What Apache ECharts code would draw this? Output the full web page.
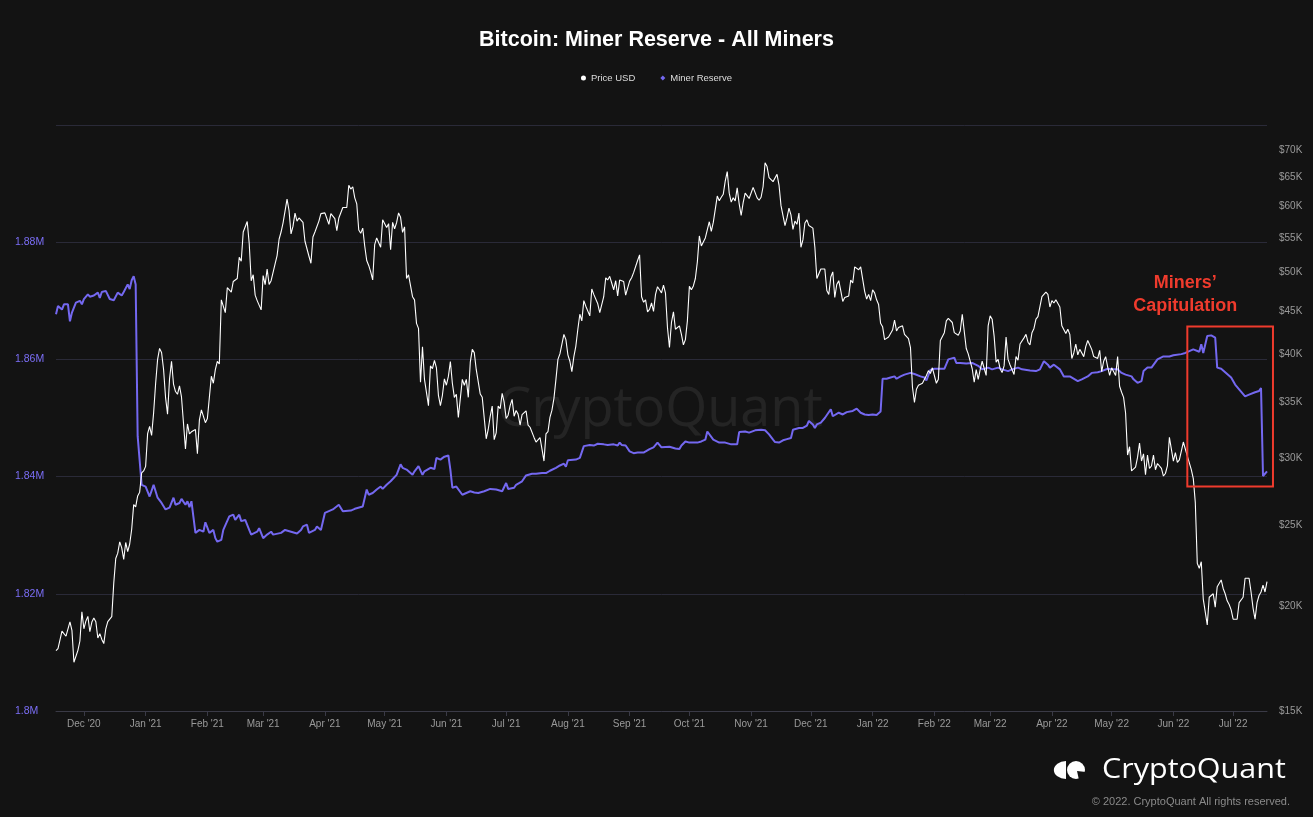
<!DOCTYPE html>
<html>
<head>
<meta charset="utf-8">
<script src="https://cdn.jsdelivr.net/npm/echarts@6/dist/echarts.min.js"></script>
<style>
html,body{margin:0;padding:0;background:#131313;}
#c{width:1313px;height:817px;}
</style>
</head>
<body>
<div id="c"></div>
<script>
// ---------------- DATA ----------------
// Daily BTC price (USD), one row per month; first month starts on day 17
const priceMonths = ['2020-11','2020-12','2021-01','2021-02','2021-03','2021-04','2021-05','2021-06','2021-07','2021-08','2021-09','2021-10','2021-11','2021-12',
'2022-01','2022-02','2022-03','2022-04','2022-05','2022-06','2022-07'];
const priceFirstDay = 17;
const priceByMonth = [
[17700,17800,17800,18680,18700,18420,18370,19160,18720,17150,17140,17720,18180,19700],
[18800,19200,19450,18650,19150,19360,19170,18330,18550,18260,18050,18800,19170,19250,19440,21310,22800,23140,23870,23480,22750,23830,23240,23730,24710,26440,26270,27080,27360,28840,29000],
[29370,32130,32780,31970,33990,36820,39370,40600,40150,38350,35500,33900,37320,39200,36820,36070,35800,36630,35540,35600,30800,33000,32100,32290,32290,32500,30400,33370,34300,34300,33110],
[33500,35500,37620,36900,38300,39190,38900,46400,46480,44800,47970,47910,47400,48800,48580,49200,52150,51600,55900,56000,57540,54200,48900,49710,47000,46300,46190,45140],
[49600,48380,50500,48400,48900,48900,51200,52400,54800,55900,57330,57300,61200,59300,55600,56800,58870,57600,58100,58230,57400,54500,54340,52300,51300,55140,55900,55800,57600,58800,58800],
[58920,59000,57100,58800,58800,58000,56100,58100,58100,59800,59800,59800,63540,62900,63300,61400,60400,56200,55700,56500,53800,51700,51000,50100,49000,54000,55000,54840,53600,57800],
[57800,56600,57200,53250,57400,56400,57350,58900,58200,55840,56700,49200,49700,49900,46800,46400,43500,42900,37000,40800,37300,37500,34700,38700,38400,39300,38500,35700,34700,35700,37340],
[36700,37600,39170,36900,35500,35800,33600,33600,37300,36700,37300,35500,39100,40500,40140,38300,38100,35820,35500,35600,31680,32500,33700,34650,31600,32200,34650,34400,35900,35040],
[33500,33800,34700,35300,33700,34240,33900,32900,33850,33800,34200,32900,32700,32800,31800,31400,31500,31790,30800,29800,32110,32300,33600,34270,35400,37300,39400,40000,40000,42200,41600],
[39900,39200,38100,39700,40870,42800,44600,43800,46300,45600,45600,44400,47800,47100,47000,45900,44800,44700,46800,49300,49000,49500,49500,47700,48900,46900,49000,48900,48800,47000,47100],
[48850,49300,50000,49900,51700,52500,46800,46100,46400,44900,45200,46000,44960,47100,48100,47700,47300,48300,47250,43000,40700,43600,44900,42800,42700,43200,42200,41000,41600,43800],
[48150,47700,48200,49200,51500,55300,53800,53800,55000,54700,57500,56000,57400,57400,61700,60900,61500,62000,64300,66000,62200,60700,61400,60900,63100,60400,58500,60600,62200,61900,61300],
[61000,63200,62900,61400,61000,61500,63300,67600,66900,64900,64900,64200,64400,65500,63600,60100,60400,56900,58100,59700,58600,56300,57600,57100,58900,53600,54700,57300,57800,56900],
[57200,56500,53600,49200,49400,50500,50600,50500,47600,47100,49400,50100,46700,48400,48900,47600,46200,46700,46700,46900,49000,48600,50800,50800,50400,50800,50700,47500,46500,47100,46300],
[47700,47300,46400,45800,43500,43100,41600,41700,41900,41800,42700,43900,42600,43000,43100,43200,42200,42400,41700,40700,36500,35000,36300,36700,36900,36900,37100,37700,38200,37900,38500],
[38700,36900,37300,41500,41400,42400,43800,44100,44300,43600,42400,42200,42100,42600,44600,44500,40600,40000,40100,38400,37000,38300,37300,38300,39200,39200,37700,43200],
[44400,44000,42000,39100,39400,38400,38000,38700,41900,39400,38800,38800,37800,39700,39300,41100,41000,41800,42200,41300,41000,42400,42900,44000,44300,44500,46800,47100,47400,47100,45500],
[46300,46000,46400,46600,45500,43200,43400,42300,42800,42200,39500,40100,41100,39900,40500,40400,39700,40800,41500,41500,40500,39700,39500,39500,40400,38100,39200,39700,38600,37700],
[38500,38500,37700,39700,36600,36000,35500,34000,30300,31000,29000,28900,29300,30100,31300,29800,30400,28700,30300,29200,29400,30300,29100,29600,29500,29200,28600,28800,29400,31800,31800],
[29800,30500,29700,29900,29900,31400,31400,30200,30100,29100,28400,26600,22500,22200,22600,20400,20400,19000,20500,20600,20700,19950,21100,21200,21500,21000,20700,20300,20100,19800],
[19300,19250,19300,20200,20200,20500,21600,21700,21600,20800,19900,19300,20200,20600,20800,21200,20800,21400]
];

const reserveDates = ['2020-11-17','2020-11-18','2020-11-20','2020-11-21','2020-11-23','2020-11-24','2020-11-25','2020-11-27','2020-11-29','2020-11-30',
'2020-12-01','2020-12-03','2020-12-04','2020-12-06','2020-12-08','2020-12-09','2020-12-10','2020-12-12','2020-12-13','2020-12-14','2020-12-16','2020-12-18','2020-12-20','2020-12-21','2020-12-23','2020-12-24','2020-12-25','2020-12-26','2020-12-27','2020-12-28','2020-12-29','2020-12-30',
'2021-01-01','2021-01-03','2021-01-05','2021-01-06','2021-01-07','2021-01-09','2021-01-11','2021-01-13','2021-01-15','2021-01-16','2021-01-18','2021-01-19','2021-01-21','2021-01-22','2021-01-23','2021-01-24','2021-01-26','2021-01-28','2021-01-30','2021-01-31',
'2021-02-02','2021-02-04','2021-02-05','2021-02-06','2021-02-08','2021-02-09','2021-02-12','2021-02-14','2021-02-15','2021-02-17','2021-02-18','2021-02-20','2021-02-22','2021-02-23','2021-02-26','2021-02-27',
'2021-03-01','2021-03-03','2021-03-05','2021-03-06','2021-03-10','2021-03-12','2021-03-13','2021-03-15','2021-03-16','2021-03-18','2021-03-20','2021-03-21','2021-03-23','2021-03-24','2021-03-25','2021-03-27','2021-03-28','2021-03-30','2021-03-31',
'2021-04-01','2021-04-03','2021-04-05','2021-04-06','2021-04-08','2021-04-10','2021-04-11','2021-04-14','2021-04-16','2021-04-20','2021-04-22','2021-04-23','2021-04-25','2021-04-27','2021-04-29','2021-04-30',
'2021-05-02','2021-05-04','2021-05-05','2021-05-07','2021-05-09','2021-05-10','2021-05-12','2021-05-15','2021-05-16','2021-05-18','2021-05-20','2021-05-21','2021-05-24','2021-05-26','2021-05-27','2021-05-29','2021-05-31',
'2021-06-02','2021-06-03','2021-06-04','2021-06-06','2021-06-07','2021-06-09','2021-06-10','2021-06-13','2021-06-15','2021-06-17','2021-06-20','2021-06-21','2021-06-23','2021-06-26','2021-06-29','2021-06-30',
'2021-07-01','2021-07-02','2021-07-05','2021-07-06','2021-07-09','2021-07-11','2021-07-14','2021-07-16','2021-07-19','2021-07-21','2021-07-23','2021-07-26','2021-07-28','2021-07-30','2021-07-31',
'2021-08-01','2021-08-02','2021-08-05','2021-08-07','2021-08-08','2021-08-09','2021-08-12','2021-08-14','2021-08-16','2021-08-19','2021-08-21','2021-08-24','2021-08-26','2021-08-27','2021-08-28','2021-08-30',
'2021-09-01','2021-09-03','2021-09-05','2021-09-06','2021-09-08','2021-09-11','2021-09-13','2021-09-15','2021-09-17','2021-09-18','2021-09-21','2021-09-22','2021-09-24','2021-09-26','2021-09-27','2021-09-29',
'2021-10-01','2021-10-02','2021-10-05','2021-10-07','2021-10-09','2021-10-10','2021-10-11','2021-10-13','2021-10-14','2021-10-16','2021-10-17','2021-10-19','2021-10-22','2021-10-23','2021-10-25','2021-10-26','2021-10-27','2021-10-29','2021-10-31',
'2021-11-01','2021-11-03','2021-11-06','2021-11-08','2021-11-10','2021-11-12','2021-11-13','2021-11-15','2021-11-17','2021-11-19','2021-11-21','2021-11-22','2021-11-25','2021-11-27','2021-11-29','2021-11-30',
'2021-12-02','2021-12-03','2021-12-04','2021-12-06','2021-12-08','2021-12-09','2021-12-11','2021-12-12','2021-12-13','2021-12-15','2021-12-17','2021-12-19','2021-12-22','2021-12-24','2021-12-26','2021-12-28','2021-12-30',
'2022-01-01','2022-01-03','2022-01-04','2022-01-05','2022-01-06','2022-01-08','2022-01-10','2022-01-12','2022-01-13','2022-01-15','2022-01-17','2022-01-18','2022-01-20','2022-01-22','2022-01-23','2022-01-25','2022-01-27','2022-01-28','2022-01-30',
'2022-02-01','2022-02-03','2022-02-04','2022-02-06','2022-02-08','2022-02-09','2022-02-11','2022-02-12','2022-02-14','2022-02-17','2022-02-18','2022-02-20','2022-02-23','2022-02-25','2022-02-28',
'2022-03-02','2022-03-05','2022-03-07','2022-03-10','2022-03-12','2022-03-15','2022-03-17','2022-03-21','2022-03-24','2022-03-26','2022-03-28','2022-03-30','2022-03-31',
'2022-04-02','2022-04-05','2022-04-07','2022-04-10','2022-04-11','2022-04-14','2022-04-16','2022-04-19','2022-04-21','2022-04-24','2022-04-26','2022-04-29',
'2022-05-01','2022-05-04','2022-05-06','2022-05-08','2022-05-11','2022-05-12','2022-05-14','2022-05-16','2022-05-17','2022-05-19','2022-05-21','2022-05-22','2022-05-24','2022-05-27','2022-05-30',
'2022-06-01','2022-06-05','2022-06-07','2022-06-09','2022-06-11','2022-06-14','2022-06-15','2022-06-16','2022-06-18','2022-06-20','2022-06-22','2022-06-23','2022-06-25','2022-06-27','2022-06-30',
'2022-07-02','2022-07-04','2022-07-07','2022-07-09','2022-07-12','2022-07-14','2022-07-15','2022-07-16','2022-07-18'];

// Miner reserve, in millions of BTC
const reserveValues = [1.8677,1.8691,1.8685,1.8694,1.8694,1.8665,1.8680,1.8697,1.8700,1.8694,
1.8703,1.8711,1.8707,1.8709,1.8714,1.8705,1.8715,1.8717,1.8718,1.8703,1.8701,1.8714,1.8709,1.8715,1.8728,1.8720,1.8735,1.8742,1.8728,1.8469,1.8472,1.8386,
1.8383,1.8366,1.8386,1.8386,1.8364,1.8355,1.8344,1.8347,1.8364,1.8352,1.8355,1.8362,1.8352,1.8358,1.8348,1.8358,1.8304,1.8309,1.8306,1.8322,
1.8304,1.8309,1.8295,1.8289,1.8292,1.8309,1.8332,1.8335,1.8326,1.8335,1.8324,1.8326,1.8309,1.8301,1.8306,1.8312,
1.8295,1.8301,1.8306,1.8301,1.8304,1.8309,1.8312,1.8306,1.8309,1.8303,1.8309,1.8315,1.8318,1.8304,1.8301,1.8309,1.8315,1.8309,1.8312,
1.8338,1.8341,1.8344,1.8347,1.8352,1.8341,1.8344,1.8342,1.8345,1.8349,1.8378,1.8369,1.8372,1.8378,1.8383,1.8379,
1.8386,1.8392,1.8395,1.8403,1.8421,1.8415,1.8412,1.8403,1.8409,1.8418,1.8403,1.8409,1.8415,1.8413,1.8432,1.8429,1.8434,
1.8436,1.8412,1.8381,1.8383,1.8383,1.8369,1.8372,1.8375,1.8373,1.8372,1.8375,1.8376,1.8379,1.8378,1.8375,1.8375,
1.8389,1.8379,1.8381,1.8386,1.8392,1.8402,1.8405,1.8405,1.8406,1.8406,1.8410,1.8415,1.8419,1.8422,1.8417,
1.8428,1.8426,1.8429,1.8432,1.8435,1.8452,1.8454,1.8453,1.8456,1.8455,1.8454,1.8455,1.8453,1.8458,1.8454,1.8453,
1.8443,1.8440,1.8441,1.8438,1.8441,1.8447,1.8450,1.8458,1.8450,1.8452,1.8451,1.8452,1.8448,1.8447,1.8453,1.8460,
1.8458,1.8459,1.8458,1.8460,1.8463,1.8477,1.8477,1.8463,1.8460,1.8458,1.8460,1.8458,1.8455,1.8453,1.8455,1.8476,1.8479,1.8477,1.8475,
1.8476,1.8479,1.8480,1.8479,1.8472,1.8463,1.8459,1.8458,1.8462,1.8464,1.8466,1.8480,1.8483,1.8483,1.8487,1.8495,
1.8489,1.8483,1.8489,1.8492,1.8500,1.8503,1.8515,1.8503,1.8505,1.8509,1.8506,1.8510,1.8512,1.8516,1.8509,1.8506,1.8505,
1.8506,1.8505,1.8507,1.8511,1.8567,1.8567,1.8569,1.8571,1.8567,1.8571,1.8574,1.8573,1.8577,1.8575,1.8573,1.8571,1.8569,1.8564,1.8582,
1.8584,1.8584,1.8585,1.8584,1.8600,1.8601,1.8603,1.8594,1.8594,1.8593,1.8595,1.8594,1.8589,1.8583,1.8586,
1.8583,1.8586,1.8583,1.8580,1.8583,1.8586,1.8583,1.8581,1.8580,1.8583,1.8597,1.8591,1.8586,
1.8591,1.8583,1.8571,1.8571,1.8569,1.8563,1.8566,1.8571,1.8577,1.8578,1.8580,1.8584,
1.8583,1.8583,1.8577,1.8574,1.8571,1.8566,1.8560,1.8563,1.8580,1.8586,1.8586,1.8588,1.8600,1.8605,1.8605,
1.8607,1.8609,1.8611,1.8614,1.8617,1.8613,1.8626,1.8611,1.8640,1.8641,1.8637,1.8586,1.8584,1.8578,1.8569,
1.8557,1.8549,1.8537,1.8540,1.8544,1.8546,1.8551,1.8401,1.8409];

const priceTicks = [15000,20000,25000,30000,35000,40000,45000,50000,55000,60000,65000,70000];

// annotation box, in data units (date / reserve in M)
const annoFrom = '2022-06-08', annoTo = '2022-07-21', annoTopM = 1.8656, annoBottomM = 1.8383;

// ---------------- CHART ----------------
const toTs = s => { const p = s.split('-').map(Number); return new Date(p[0], p[1]-1, p[2] || 1).getTime(); };
const MON = ['Jan','Feb','Mar','Apr','May','Jun','Jul','Aug','Sep','Oct','Nov','Dec'];
const FONT = '"Liberation Sans", Arial, Helvetica, sans-serif';
const DAY = 86400000;

const priceData = [];
priceMonths.forEach((ym, k) => {
  const p = ym.split('-').map(Number);
  const first = k === 0 ? priceFirstDay : 1;
  priceByMonth[k].forEach((v, j) => {
    priceData.push([new Date(p[0], p[1] - 1, first + j).getTime(), v]);
  });
});
const reserveData = reserveDates.map((d, i) => [toTs(d), reserveValues[i]]);

const chart = echarts.init(document.getElementById('c'), null, {renderer: 'canvas'});

const option = {
  backgroundColor: '#131313',
  animation: false,
  textStyle: {fontFamily: FONT},
  title: {
    text: 'Bitcoin: Miner Reserve - All Miners',
    left: 'center', top: 24,
    textStyle: {color: '#ffffff', fontSize: 21.5, fontWeight: 'bold', fontFamily: FONT}
  },
  legend: {
    top: 68, left: 'center',
    itemWidth: 5, itemHeight: 5, itemGap: 25,
    textStyle: {color: '#dddddd', fontSize: 9.5, fontFamily: FONT},
    data: [{name: 'Price USD', icon: 'circle'}, {name: 'Miner Reserve', icon: 'diamond'}]
  },
  grid: {left: 56, right: 46, top: 125, bottom: 106, containLabel: false, outerBoundsMode: 'none'},
  xAxis: {
    type: 'time',
    min: toTs('2020-11-17'), max: toTs('2022-07-18'),
    splitNumber: 20, minInterval: 28 * DAY, maxInterval: 31 * DAY,
    axisLine: {show: true, lineStyle: {color: '#3a3a46', width: 1}},
    axisTick: {show: true, length: 5, lineStyle: {color: '#3a3a46'}},
    splitLine: {show: false},
    axisLabel: {
      color: '#9a9a9a', fontSize: 10, margin: 8, fontFamily: FONT, hideOverlap: false,
      formatter: v => { const d = new Date(v); return MON[d.getMonth()] + " '" + String(d.getFullYear()).slice(2); }
    }
  },
  yAxis: [
    {
      type: 'value', position: 'left',
      min: 1.8, max: 1.9, interval: 0.02,
      axisLine: {show: false}, axisTick: {show: false},
      splitLine: {show: true, lineStyle: {color: '#2a2a38', width: 1}},
      axisLabel: {
        color: '#7b6ef6', fontSize: 10.5, align: 'left', margin: 41, fontFamily: FONT,
        formatter: v => (v > 1.895 ? '' : (Math.round(v * 100) / 100) + 'M')
      }
    },
    {
      type: 'log', position: 'right', logBase: 10,
      min: 15000, max: 75000,
      axisLine: {show: false}, axisTick: {show: false},
      splitLine: {show: false},
      axisLabel: {
        color: '#9a9a9a', fontSize: 10, align: 'left', margin: 12, fontFamily: FONT,
        customValues: priceTicks,
        formatter: v => '$' + Math.round(v / 1000) + 'K'
      }
    }
  ],
  series: [
    {
      name: 'Miner Reserve', type: 'line', yAxisIndex: 0,
      showSymbol: false, symbol: 'circle',
      color: '#7468f0',
      lineStyle: {color: '#7468f0', width: 2},
      data: reserveData,
      z: 3
    },
    {
      name: 'Price USD', type: 'line', yAxisIndex: 1,
      showSymbol: false, symbol: 'circle',
      color: '#ffffff',
      lineStyle: {color: '#ffffff', width: 1.1},
      data: priceData,
      z: 4
    }
  ]
};
chart.setOption(option);

// annotation + decorations
const pA = chart.convertToPixel({xAxisIndex: 0, yAxisIndex: 0}, [toTs(annoFrom), annoTopM]);
const pB = chart.convertToPixel({xAxisIndex: 0, yAxisIndex: 0}, [toTs(annoTo), annoBottomM]);
const RED = '#ef3b2d';

chart.setOption({
  graphic: [
    { // watermark
      type: 'text', x: 660, y: 411, z: 0, silent: true,
      style: {text: 'CryptoQuant', font: '500 54px "Open Sans", Lato, sans-serif', fill: 'rgba(255,255,255,0.075)', align: 'center', verticalAlign: 'middle'}
    },
    {
      type: 'rect', z: 10, silent: true,
      shape: {x: pA[0], y: pA[1], width: pB[0] - pA[0], height: pB[1] - pA[1]},
      style: {fill: 'none', stroke: RED, lineWidth: 2}
    },
    {
      type: 'text', z: 10, silent: true,
      x: pA[0] - 2, y: pA[1] - 44,
      style: {text: 'Miners\u2019', font: 'bold 18px ' + FONT, fill: RED, align: 'center', verticalAlign: 'middle'}
    },
    {
      type: 'text', z: 10, silent: true,
      x: pA[0] - 2, y: pA[1] - 21,
      style: {text: 'Capitulation', font: 'bold 18px ' + FONT, fill: RED, align: 'center', verticalAlign: 'middle'}
    },
    { // logo: left half-disc
      type: 'sector', z: 10, silent: true,
      x: 1066, y: 770, scaleX: 1.35,
      shape: {cx: 0, cy: 0, r: 9, r0: 0, startAngle: Math.PI / 2, endAngle: Math.PI * 1.5, clockwise: true},
      style: {fill: '#ffffff'}
    },
    { // logo: circle
      type: 'circle', z: 10, silent: true,
      shape: {cx: 1076, cy: 770, r: 9},
      style: {fill: '#ffffff'}
    },
    { // logo: notch
      type: 'polygon', z: 11, silent: true,
      shape: {points: [[1077, 771], [1086, 772], [1086, 780], [1079, 780]]},
      style: {fill: '#131313'}
    },
    {
      type: 'text', z: 10, silent: true,
      x: 1102, y: 770, scaleX: 1.13,
      style: {text: 'CryptoQuant', font: '27px "Open Sans", Lato, sans-serif', fill: '#ffffff', verticalAlign: 'middle'}
    },
    {
      type: 'text', z: 10, silent: true,
      x: 1290, y: 802,
      style: {text: '\u00a9 2022. CryptoQuant All rights reserved.', font: '11px ' + FONT, fill: '#8a8a8a', align: 'right', verticalAlign: 'middle'}
    }
  ]
});
</script>
</body>
</html>
